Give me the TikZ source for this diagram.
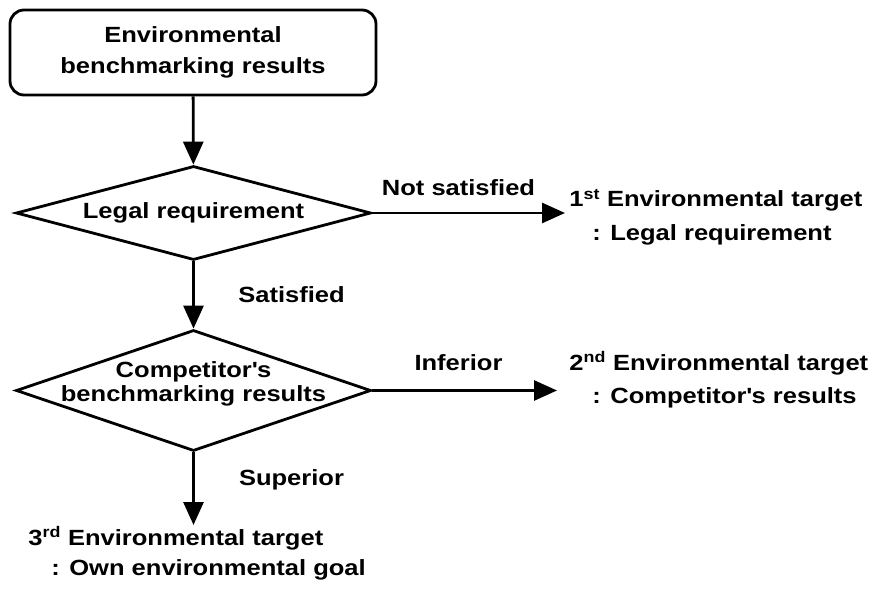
\documentclass[tikz,border=0pt]{standalone}
\usepackage{fontspec}
\setmainfont{Liberation Sans}[FakeStretch=1.16]
\usetikzlibrary{shapes.geometric,arrows.meta}

\begin{document}
\begin{tikzpicture}[x=1pt,y=-1pt,line width=2.8pt,
  >={Triangle[length=23pt,width=20pt]},
  every node/.style={font=\fontsize{22}{31}\selectfont\bfseries},
  startbox/.style={draw, rounded corners=14pt, align=center, minimum width=366pt, minimum height=85pt},
  decision/.style={draw, diamond, align=center, minimum width=355pt, inner sep=-20pt},
  target/.style={align=left, anchor=north west, inner xsep=3pt, inner ysep=0pt},
  answer/.style={anchor=base}]
\useasboundingbox (0,0) rectangle (881,594);

\node[startbox] (results) at (193,52.5) {Environmental\\benchmarking results};
\node[decision, aspect=3.78, minimum height=94pt] (legal) at (193.5,213) {Legal requirement};
\node[decision, aspect=2.93, minimum height=121pt, text depth=17pt, font=\fontsize{22}{24}\selectfont\bfseries] (comp) at (193.5,390.5) {Competitor\textquotesingle s\\benchmarking results};

\node[target, font=\fontsize{22}{34}\selectfont\bfseries] (first) at (565,188) {1\textsuperscript{st} Environmental target\\\hspace*{23pt}: Legal requirement};
\node[target, font=\fontsize{22}{33}\selectfont\bfseries] (second) at (565,350) {2\textsuperscript{nd} Environmental target\\\hspace*{23pt}: Competitor\textquotesingle s results};
\node[target, font=\fontsize{22}{30}\selectfont\bfseries] (third) at (24,525) {3\textsuperscript{rd} Environmental target\\\hspace*{23pt}: Own environmental goal};

\draw[->] (results) -- (legal);
\draw[->] (legal) -- (comp);
\draw[->] (comp.south) -- (comp.south |- third.north);
\draw[->] (legal.east) -- (legal.east -| first.west);
\draw[->, shorten >=8pt] (comp.east) -- (comp.east -| second.west);

\node[answer] (notsat) at (458.5,195) {Not satisfied};
\node[answer] (sat) at (291.5,302) {Satisfied};
\node[answer] (inf) at (458.5,370) {Inferior};
\node[answer] (sup) at (291.5,485) {Superior};
\end{tikzpicture}
\end{document}
